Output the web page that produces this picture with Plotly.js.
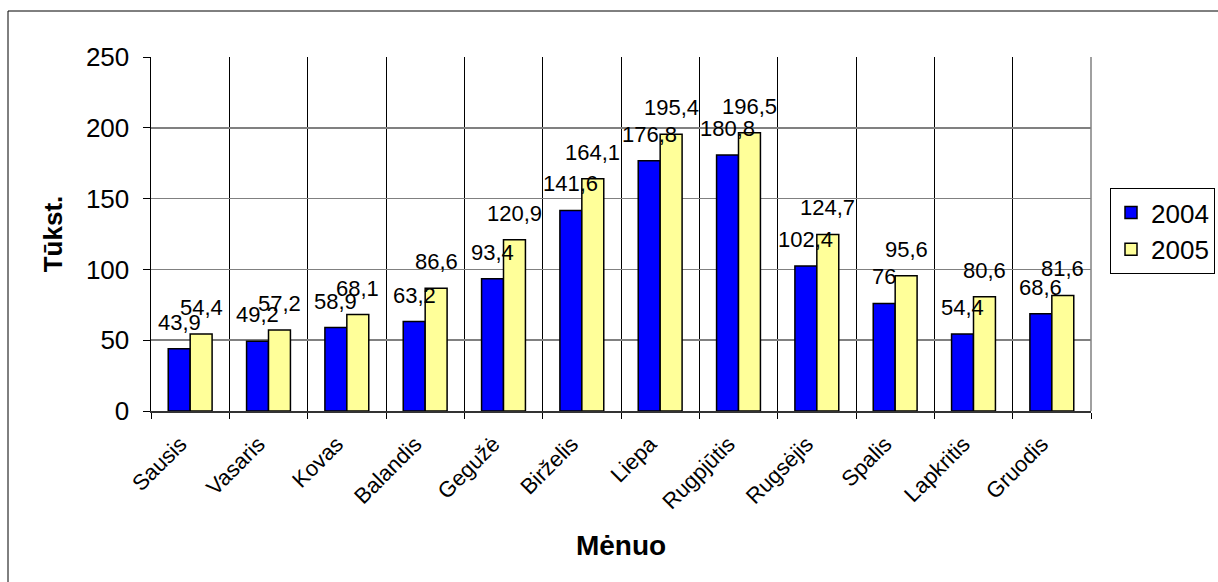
<!DOCTYPE html>
<html>
<head>
<meta charset="utf-8">
<script src="https://cdn.plot.ly/plotly-3.0.1.min.js"></script>
<style>
  html, body { margin: 0; padding: 0; background: #fff; }
  #chart { width: 1218px; height: 582px; }
</style>
</head>
<body>
<div id="chart"></div>
<script>
// Monthly figures, thousands
const months = ['Sausis', 'Vasaris', 'Kovas', 'Balandis', 'Gegužė', 'Birželis',
                'Liepa', 'Rugpjūtis', 'Rugsėjis', 'Spalis', 'Lapkritis', 'Gruodis'];
const years = ['2004', '2005'];
const values2004 = [43.9, 49.2, 58.9, 63.2, 93.4, 141.6, 176.8, 180.8, 102.4, 76, 54.4, 68.6];
const values2005 = [54.4, 57.2, 68.1, 86.6, 120.9, 164.1, 195.4, 196.5, 124.7, 95.6, 80.6, 81.6];
const yTicks = [0, 50, 100, 150, 200, 250];

const FONT = 'Liberation Sans, Arial, sans-serif';
const BARGAP = 0.44;
const barHalfOffset = (1 - BARGAP) / 4;   // centre of each bar within its group

const fmt = v => String(v).replace('.', ',');

const traces = [
  {
    type: 'bar', name: years[0], x: months, y: values2004,
    marker: { color: '#0000FF', line: { color: '#000000', width: 1.5 } },
    hoverinfo: 'x+y'
  },
  {
    type: 'bar', name: years[1], x: months, y: values2005,
    marker: { color: '#FFFF99', line: { color: '#000000', width: 1.5 } },
    hoverinfo: 'x+y'
  }
];

// value labels above every bar
const annotations = [];
[values2004, values2005].forEach((series, s) => {
  series.forEach((v, i) => {
    annotations.push({
      x: i + (s === 0 ? -barHalfOffset : barHalfOffset),
      y: v, xref: 'x', yref: 'y',
      text: fmt(v), showarrow: false,
      xanchor: 'center', yanchor: 'bottom', yshift: 12,
      font: { family: FONT, size: 22, color: '#000' }
    });
  });
});

const L = 151, R = 1091, T = 57, B = 411, W = 1218, H = 582;
const px = x => (x - L) / (R - L);
const py = y => (B - y) / (B - T);

const layout = {
  width: W, height: H,
  margin: { l: L, r: W - R, t: T, b: H - B, autoexpand: false },
  paper_bgcolor: '#ffffff', plot_bgcolor: '#ffffff',
  font: { family: FONT, color: '#000' },
  barmode: 'group', bargap: BARGAP, bargroupgap: 0,
  showlegend: true,
  legend: {
    x: px(1110), y: py(188), xanchor: 'left', yanchor: 'top',
    bgcolor: '#ffffff', bordercolor: '#000000', borderwidth: 1,
    font: { family: FONT, size: 26, color: '#000' },
    tracegroupgap: 0, itemwidth: 30
  },
  xaxis: {
    type: 'category', tickson: 'boundaries',
    ticks: 'outside', ticklen: 6, tickcolor: '#000',
    tickangle: -45, ticklabelstandoff: 10, ticklabelshift: -10,
    tickfont: { family: FONT, size: 22, color: '#000' },
    showgrid: true, gridcolor: '#000000', gridwidth: 1,
    showline: true, linecolor: '#333333', linewidth: 1.5,
    title: { text: 'Mėnuo', font: { family: FONT, size: 28, color: '#000', weight: 'bold' }, standoff: 22 },
    automargin: false, fixedrange: true
  },
  yaxis: {
    range: [0, 250], tickvals: yTicks, ticktext: yTicks.map(String),
    ticks: 'outside', ticklen: 7, tickcolor: '#000', ticklabelstandoff: 8,
    tickfont: { family: FONT, size: 26, color: '#000' },
    showgrid: true, gridcolor: '#808080', gridwidth: 1.5,
    zeroline: false,
    showline: true, linecolor: '#000000', linewidth: 1.5,
    title: { text: 'Tūkst.', font: { family: FONT, size: 26, color: '#000', weight: 'bold' }, standoff: 16 },
    automargin: false, fixedrange: true
  },
  shapes: [
    // right edge of the plot area
    { type: 'line', xref: 'paper', yref: 'paper', x0: 1, x1: 1, y0: 0, y1: 1,
      line: { color: '#808080', width: 1.5 } },
    // outer chart frame: left and top edges
    { type: 'line', xref: 'paper', yref: 'paper',
      x0: px(8), x1: px(8), y0: py(582), y1: py(11),
      line: { color: '#000000', width: 1 } },
    { type: 'line', xref: 'paper', yref: 'paper',
      x0: px(8), x1: px(1218), y0: py(11), y1: py(11),
      line: { color: '#000000', width: 1 } }
  ],
  annotations: annotations
};

Plotly.newPlot('chart', traces, layout, { displayModeBar: false, staticPlot: true });
</script>
</body>
</html>
